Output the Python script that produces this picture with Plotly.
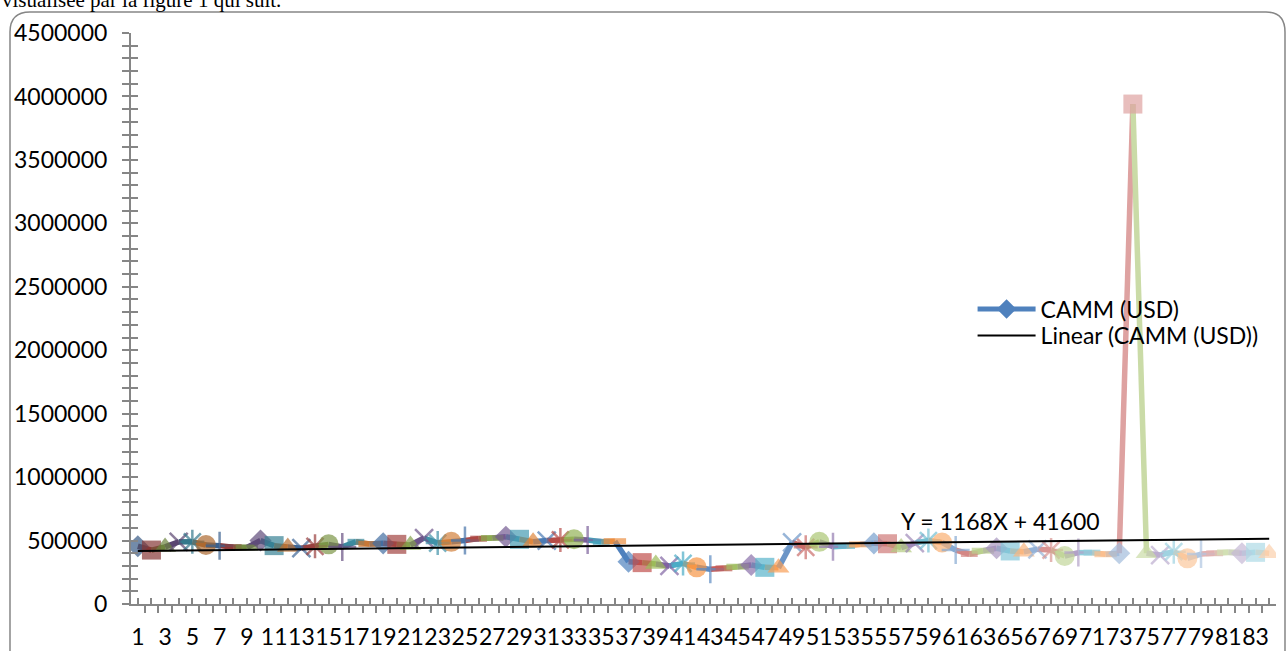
import plotly.graph_objects as go

# ---------------- data ----------------
categories = list(range(1, 85))
camm_usd = [
    455000, 425000, 450000, 490000, 490000, 465000, 460000, 448000, 445000, 500000,
    460000, 450000, 440000, 455000, 470000, 450000, 490000, 473000, 478000, 470000,
    465000, 520000, 480000, 490000, 500000, 515000, 520000, 530000, 510000, 491000,
    500000, 505000, 510000, 505000, 490000, 495000, 333000, 326000, 315000, 300000,
    320000, 289000, 273000, 281000, 294000, 307000, 289000, 285000, 485000, 447000,
    490000, 452000, 457000, 470000, 478000, 475000, 445000, 480000, 500000, 485000,
    425000, 394000, 420000, 439000, 418000, 412000, 431000, 425000, 378000, 405000,
    405000, 392000, 400000, 3940000, 400000, 386000, 412000, 360000, 394000, 400000,
    407000, 400000, 407000, 400000,
]
x_tick_labels = [str(c) if c % 2 == 1 else "" for c in categories]
y_tick_values = list(range(0, 4500001, 100000))
y_tick_labels = [str(v) if v % 500000 == 0 else "" for v in y_tick_values]
trend_slope = 1168
trend_intercept = 416000
trend_label = "Y = 1168X + 41600"
series_name = "CAMM (USD)"
trend_name = "Linear (CAMM (USD))"
caption = "visualisée par la figure 1 qui suit."

# ---------------- styles ----------------
base = ["#4F81BD", "#C0504D", "#9BBB59", "#8064A2", "#4BACC6", "#F79646"]
symbols = ["diamond", "square", "triangle-up", "x-thin-open", "asterisk-open",
           "circle", "cross-thin-open", "line-ew-open", "line-ew-open"]
sizes = [17, 19, 19, 18, 20, 20, 20, 12, 16]
lwidths = [0, 0, 0, 2.5, 2.5, 0, 2.5, 6, 6]


def hex2rgb(h):
    h = h.lstrip("#")
    return [int(h[i:i + 2], 16) for i in (0, 2, 4)]


def shade(h, t):
    r = hex2rgb(h)
    if t < 0:
        r = [v * (1 + t) for v in r]
    else:
        r = [v + (255 - v) * t for v in r]
    return "rgb(%d,%d,%d)" % tuple(int(round(v)) for v in r)


def point_color(i):
    c = i // 6
    if c < 6:
        t = -0.3 * (6 - c) / 6
    else:
        t = 0.55 * (c - 6) / 7
    return shade(base[i % 6], t)


n = len(categories)
colors = [point_color(i) for i in range(n)]

fig = go.Figure()

# line segments, each coloured by its end point
for i in range(1, n):
    fig.add_trace(go.Scatter(
        x=[categories[i - 1], categories[i]], y=[camm_usd[i - 1], camm_usd[i]],
        mode="lines", line=dict(color=colors[i], width=5.5),
        showlegend=False, hoverinfo="skip"))

# markers
fig.add_trace(go.Scatter(
    x=categories, y=camm_usd, mode="markers", showlegend=False,
    marker=dict(symbol=[symbols[i % 9] for i in range(n)],
                size=[sizes[i % 9] for i in range(n)],
                color=colors,
                line=dict(color=colors, width=[lwidths[i % 9] for i in range(n)]))))

# legend entry for series
fig.add_trace(go.Scatter(
    x=[None], y=[None], mode="lines+markers", name=series_name, legend="legend",
    line=dict(color="#4F81BD", width=5),
    marker=dict(symbol="diamond", size=15, color="#4F81BD")))

# trendline
fig.add_trace(go.Scatter(
    x=categories, y=[trend_slope * c + trend_intercept for c in categories],
    mode="lines", name=trend_name, legend="legend2",
    line=dict(color="black", width=2)))

# overlay axes for crossing tick marks
fig.add_trace(go.Scatter(x=[None], y=[None], xaxis="x2", yaxis="y2",
                         showlegend=False, hoverinfo="skip"))

tick_font = dict(family="Lato", size=23, color="black")
axis_gray = "#868686"
legend_common = dict(xanchor="left", yanchor="top", bgcolor="rgba(0,0,0,0)",
                     font=dict(family="Lato", size=23, color="black"),
                     itemwidth=58, tracegroupgap=0)

fig.update_layout(
    template="none",
    width=1287, height=651,
    margin=dict(l=131, r=11, t=33, b=47, autoexpand=False),
    paper_bgcolor="white", plot_bgcolor="white",
    font=tick_font,
    xaxis=dict(range=[0.5, 84.5], tickmode="array", tickvals=categories,
               ticktext=x_tick_labels, ticks="inside", ticklen=6, tickwidth=1.5,
               tickangle=0, automargin=False,
               tickcolor=axis_gray, showline=True, linecolor=axis_gray, linewidth=2,
               showgrid=False, zeroline=False, tickfont=tick_font,
               ticklabelstandoff=11,
               minor=dict(tickmode="array",
                          tickvals=[c + 0.5 for c in [0] + categories],
                          ticks="outside", ticklen=7, tickwidth=1.5,
                          tickcolor=axis_gray, showgrid=False)),
    yaxis=dict(range=[0, 4500000], tickmode="array", tickvals=y_tick_values,
               ticktext=y_tick_labels, ticks="outside", ticklen=7, tickwidth=1.5,
               automargin=False,
               tickcolor=axis_gray, showline=True, linecolor=axis_gray, linewidth=2,
               showgrid=False, zeroline=False, tickfont=tick_font,
               ticklabelstandoff=10),
    xaxis2=dict(overlaying="x", range=[0.5, 84.5], showticklabels=False,
                ticks="", showline=False, showgrid=False, zeroline=False),
    yaxis2=dict(overlaying="y", range=[0, 4500000], tickmode="array",
                tickvals=y_tick_values, showticklabels=False, ticks="inside",
                ticklen=7, tickwidth=1.5, tickcolor=axis_gray, showline=False,
                showgrid=False, zeroline=False),
    legend=dict(x=0.735, y=0.554, **legend_common),
    legend2=dict(x=0.735, y=0.508, **legend_common),
    showlegend=True,
)

fig.add_annotation(x=64.3, y=654000, xref="x", yref="y", text=trend_label,
                   showarrow=False, font=dict(family="Lato", size=23, color="black"))

fig.add_annotation(x=0, y=(604 - 14) / 571, xref="paper", yref="paper",
                   xanchor="left", yanchor="bottom", text=caption, showarrow=False,
                   xshift=-131, font=dict(family="Liberation Serif", size=21, color="black"))


# rounded chart border (in pixel-derived paper coordinates)
def px(xp):
    return (xp - 131) / 1145


def py(yp):
    return (604 - yp) / 571


path = ("M %f,%f L %f,%f Q %f,%f %f,%f L %f,%f Q %f,%f %f,%f L %f,%f" % (
    px(10), py(660), px(10), py(32), px(10), py(12), px(30), py(12),
    px(1266), py(12), px(1285), py(12), px(1285), py(32), px(1285), py(660)))
fig.add_shape(type="path", path=path, xref="paper", yref="paper",
              line=dict(color=axis_gray, width=1.5))

fig.write_html("out.html", config={"displayModeBar": False},
               post_script="document.body.style.margin='0';")
